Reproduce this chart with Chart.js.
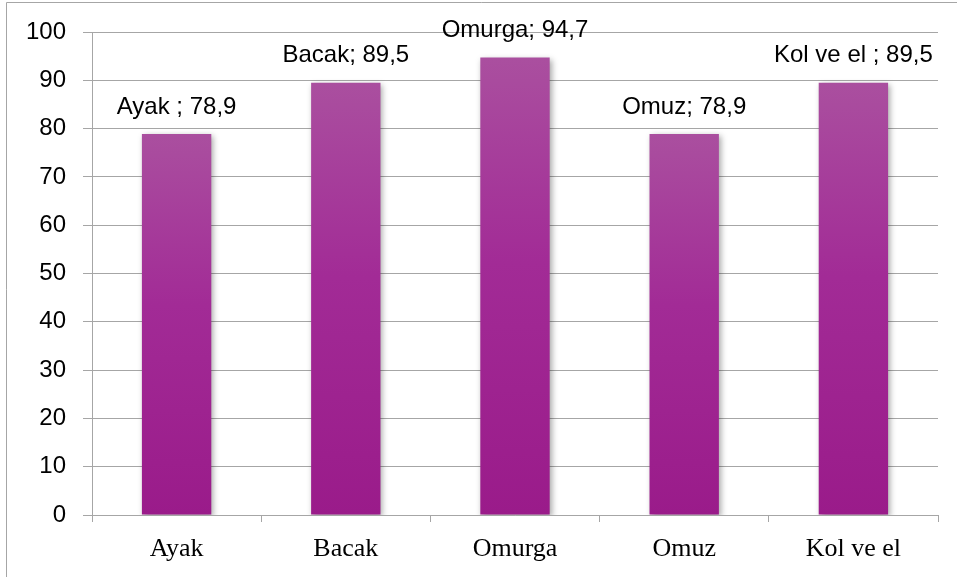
<!DOCTYPE html>
<html>
<head>
<meta charset="utf-8">
<script src="https://cdn.jsdelivr.net/npm/chart.js@4.4.1/dist/chart.umd.min.js"></script>
<style>
  html, body { margin: 0; padding: 0; background: #ffffff; }
  #wrap { width: 957px; height: 577px; position: relative; }
</style>
</head>
<body>
<div id="wrap"><canvas id="c" width="957" height="577"></canvas></div>
<script>
// ---- data ----
const categories = ["Ayak", "Bacak", "Omurga", "Omuz", "Kol ve el"];
const labelNames = ["Ayak ", "Bacak", "Omurga", "Omuz", "Kol ve el "];
const values = [78.9, 89.5, 94.7, 78.9, 89.5];
const yTicks = [0, 10, 20, 30, 40, 50, 60, 70, 80, 90, 100];

const GRID = "#a6a6a6";

function fmt(v) { return v.toFixed(1).replace(".", ","); }

function barGradient(ctx) {
  const chart = ctx.chart;
  const y = chart.scales && chart.scales.y;
  if (!chart.chartArea || !y || ctx.raw == null) return "#a0288f";
  const top = y.getPixelForValue(ctx.raw);
  const bottom = y.getPixelForValue(0);
  const g = chart.ctx.createLinearGradient(0, top, 0, bottom);
  g.addColorStop(0, "#aa4f9f");
  g.addColorStop(0.45, "#a22b96");
  g.addColorStop(1, "#9a1b8a");
  return g;
}

const borderPlugin = {
  id: "outerBorder",
  beforeDraw(chart) {
    const c = chart.ctx;
    c.save();
    c.strokeStyle = "#a6a6a6";
    c.lineWidth = 1;
    c.beginPath();
    c.moveTo(6.5, 577);
    c.lineTo(6.5, 2.5);
    c.lineTo(957, 2.5);
    c.stroke();
    c.restore();
  }
};

const shadowPlugin = {
  id: "barShadow",
  beforeDatasetsDraw(chart) {
    const c = chart.ctx;
    c.save();
    c.shadowColor = "rgba(0,0,0,0.35)";
    c.shadowBlur = 6;
    c.shadowOffsetX = 2;
    c.shadowOffsetY = 2;
  },
  afterDatasetsDraw(chart) {
    chart.ctx.restore();
  }
};

const labelPlugin = {
  id: "valueLabels",
  afterDatasetsDraw(chart) {
    const c = chart.ctx;
    const meta = chart.getDatasetMeta(0);
    c.save();
    c.font = "24px 'Liberation Sans', Arial, sans-serif";
    c.fillStyle = "#000000";
    c.textAlign = "center";
    c.textBaseline = "middle";
    meta.data.forEach((bar, i) => {
      const txt = labelNames[i] + "; " + fmt(values[i]);
      c.fillText(txt, bar.x, bar.y - 27);
    });
    c.restore();
  }
};

new Chart(document.getElementById("c"), {
  type: "bar",
  data: {
    labels: categories,
    datasets: [{
      data: values,
      backgroundColor: barGradient,
      borderWidth: 0,
      categoryPercentage: 1.0,
      barPercentage: 0.41
    }]
  },
  options: {
    responsive: false,
    animation: false,
    devicePixelRatio: 1,
    layout: { padding: { top: 32, right: 19, left: 0, bottom: 0 } },
    plugins: { legend: { display: false }, tooltip: { enabled: false } },
    scales: {
      x: {
        afterFit(s) { s.height = 62; },
        grid: {
          offset: true,
          drawOnChartArea: false,
          drawTicks: true,
          tickLength: 7,
          color: GRID,
          lineWidth: 1
        },
        border: { display: true, color: GRID, width: 1 },
        ticks: {
          padding: 12,
          color: "#000000",
          font: { family: "'Liberation Serif', 'Times New Roman', serif", size: 26 }
        }
      },
      y: {
        min: 0,
        max: 100,
        afterFit(s) { s.width = 92; },
        afterBuildTicks(s) { s.ticks = yTicks.map(v => ({ value: v })); },
        grid: {
          color: GRID,
          lineWidth: 1,
          drawTicks: true,
          tickLength: 9
        },
        border: { display: true, color: GRID, width: 1 },
        ticks: {
          padding: 17,
          color: "#000000",
          font: { family: "'Liberation Sans', Arial, sans-serif", size: 24 }
        }
      }
    }
  },
  plugins: [borderPlugin, shadowPlugin, labelPlugin]
});
</script>
</body>
</html>
